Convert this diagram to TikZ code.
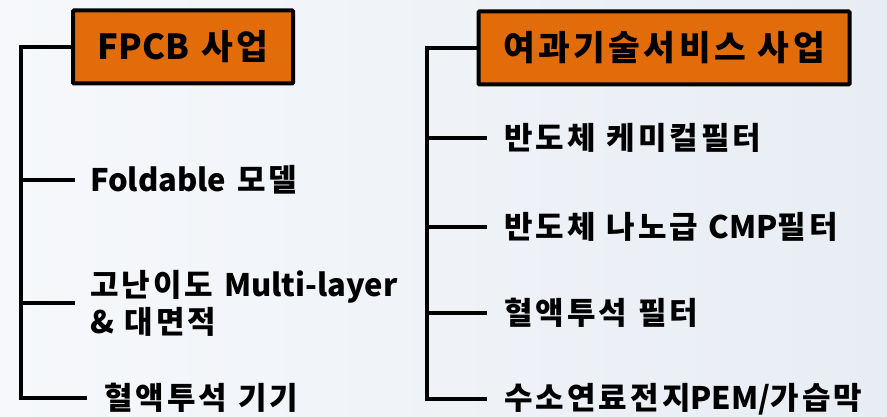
\documentclass[tikz,border=0pt]{standalone}
\usepackage{fontspec}
\setmainfont{Noto Sans CJK KR}[WordSpace=1.5]
\usepackage{tikz}
\usetikzlibrary{positioning}

% a little air between Hangul syllables
\XeTeXinterchartokenstate=1
\newXeTeXintercharclass\hangulclass
\newcount\hcode
\hcode="AC00
\loop\ifnum\hcode<"D7A4 \XeTeXcharclass\hcode=\hangulclass \advance\hcode by 1 \repeat
\XeTeXinterchartoks\hangulclass\hangulclass={\kern0.1em}

\definecolor{headorange}{HTML}{E36C0A}
\definecolor{bgleft}{HTML}{F6F8FB}
\definecolor{bgright}{HTML}{E8EDF4}

\begin{document}
\begin{tikzpicture}[x=1pt,y=-1pt,line width=4pt,
  head/.style={draw=black,fill=headorange,line width=4pt,rounded corners=1pt,
    minimum height=73pt,inner sep=0pt,font=\bfseries\fontsize{34.5}{40}\selectfont},
  item/.style={anchor=west,inner sep=0pt,align=left,
    font=\bfseries\fontsize{31}{37}\selectfont},
  branch/.style={draw=black,line width=4pt,shorten >=13pt}]
	\shade[left color=bgleft,right color=bgright] (0,0) rectangle (887,417);
	\useasboundingbox (0,0) rectangle (887,417);
		% FPCB
		\node[head,minimum width=220pt] (fpcb) at (183,47) {FPCB 사업};
		\node[item] (fold) at (88,180) {Foldable 모델};
		\node[item] (multi) at (88,303) {고난이도 Multi-layer\\\& 대면적};
		\node[item] (blood) at (102,398) {혈액투석 기기};
		\coordinate (ltop) at (21,47);
		\coordinate (lbot) at (21,398);
		% filter service
		\node[head,minimum width=371pt] (svc) at (664,48) {여과기술서비스 사업};
		\node[item] (chem) at (502,138) {반도체 케미컬필터};
		\node[item] (cmp)[below=89pt of chem.west,anchor=west] {반도체 나노급 CMP필터};
		\node[item] (dial) at (502,313) {혈액투석 필터};
		\node[item] (pem) at (502,399) {수소연료전지PEM/가습막};
		\coordinate (rtop) at (427,48);
		\coordinate (rbot) at (427,399);
		\path[draw,line cap=rect]
		(fpcb.west) -- (ltop) -- (lbot)
		(svc.west) -- (rtop) -- (rbot);
		\path
		(ltop |- fold.west) edge[branch] (fold.west)
		(ltop |- multi.west) edge[branch] (multi.west)
		(lbot) edge[branch,shorten >=15pt] (blood.west)
		(rtop |- chem.west) edge[branch,shorten >=15pt] (chem.west)
		(rtop |- cmp.west) edge[branch,shorten >=15pt] (cmp.west)
		(rtop |- dial.west) edge[branch,shorten >=15pt] (dial.west)
		(rbot) edge[branch,shorten >=15pt] (pem.west);
	\end{tikzpicture}
\end{document}
